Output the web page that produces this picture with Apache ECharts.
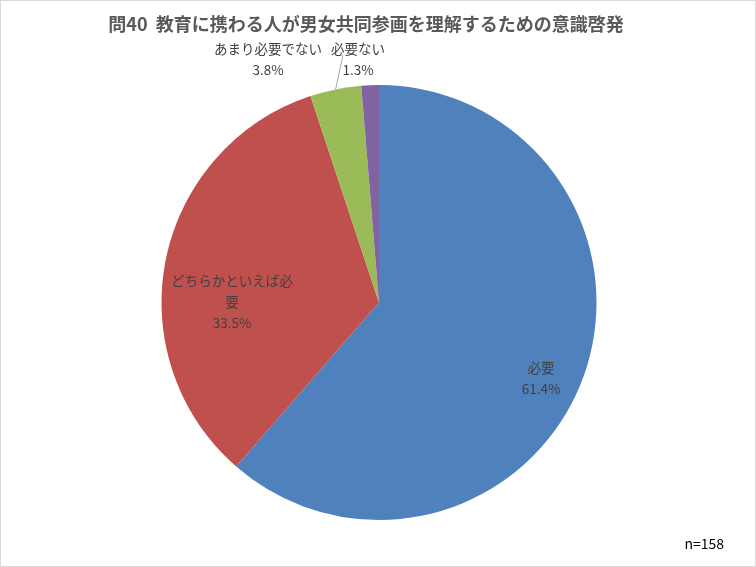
<!DOCTYPE html>
<html><head><meta charset="utf-8">
<script src="https://cdn.jsdelivr.net/npm/echarts@6/dist/echarts.min.js"></script>
<style>html,body{margin:0;padding:0;background:#fff}#c{width:756px;height:567px;box-sizing:border-box;border:1px solid #d9d9d9}</style>
</head><body><div id="c"></div>
<script>
const categories = ['必要', 'どちらかといえば必要', 'あまり必要でない', '必要ない'];
const values = [61.4, 33.5, 3.8, 1.3];
const labelTexts = ['必要', 'どちらかといえば必\n要', 'あまり必要でない', '必要ない'];
const colors = ['#4F81BD', '#C0504D', '#9BBB59', '#8064A2'];
// label centres (px) and optional leader end
const labelPlacement = [
  {x: 540, y: 377},
  {x: 231, y: 301},
  {x: 267, y: 58, line: [342, 54]},
  {x: 357, y: 58}
];
const CX = 378, CY = 301.5, R = 217.5;
const total = values.reduce((a, b) => a + b, 0);

const chart = echarts.init(document.getElementById('c'), null, {renderer: 'canvas'});
chart.setOption({
  animation: false,
  title: {
    text: '問40  教育に携わる人が男女共同参画を理解するための意識啓発',
    left: 360, top: 9, textAlign: 'center',
    textStyle: {fontFamily: 'Noto Sans CJK JP', fontSize: 18, fontWeight: 'bold', color: '#595959'}
  },
  graphic: [{
    type: 'text', right: 31, top: 536,
    style: {text: 'n=158', fontFamily: 'Noto Sans CJK JP', fontSize: 14, fill: '#000'}
  }],
  series: [{
    type: 'pie',
    center: [CX, CY],
    radius: [0, R],
    startAngle: 90,
    clockwise: true,
    silent: true,
    data: categories.map((c, i) => ({
      name: c, value: values[i],
      itemStyle: {color: colors[i]},
      label: {formatter: labelTexts[i] + '\n' + values[i].toFixed(1) + '%'},
      labelLine: {show: !!labelPlacement[i].line}
    })),
    label: {
      show: true, position: 'outside',
      fontFamily: 'Noto Sans CJK JP', fontSize: 13.5, lineHeight: 21,
      color: '#404040', align: 'center'
    },
    labelLine: {show: true, length: 10, length2: 0, lineStyle: {color: '#a6a6a6', width: 1}},
    labelLayout: function (params) {
      const i = params.dataIndex;
      const p = labelPlacement[i];
      const res = {x: p.x, y: p.y, align: 'center', verticalAlign: 'middle'};
      if (p.line) {
        let cum = 0;
        for (let k = 0; k < i; k++) cum += values[k];
        const mid = (cum + values[i] / 2) / total * 2 * Math.PI;
        const ex = CX + R * Math.sin(mid), ey = CY - R * Math.cos(mid);
        res.labelLinePoints = [[ex, ey], p.line, p.line];
      }
      return res;
    }
  }]
});
</script></body></html>
